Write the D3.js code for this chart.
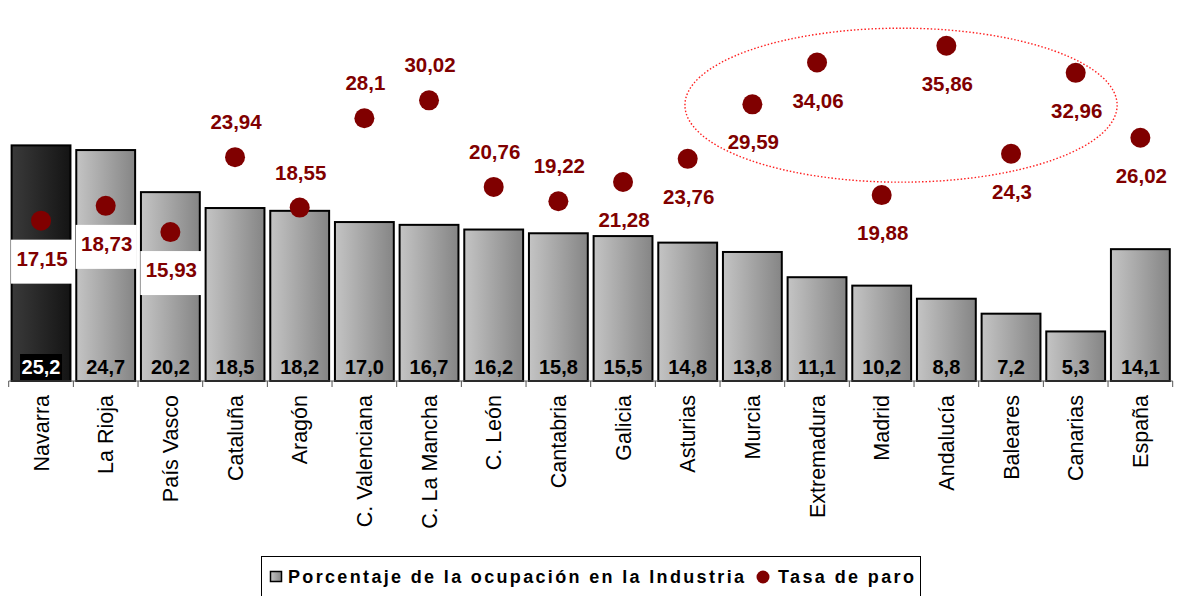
<!DOCTYPE html>
<html>
<head>
<meta charset="utf-8">
<script src="https://cdn.jsdelivr.net/npm/d3@7"></script>
<style>
  body { margin: 0; background: #fff; }
  svg { display: block; font-family: "Liberation Sans", Arial, sans-serif; }
</style>
</head>
<body>
<div id="chart"></div>
<script>
// regions, share of employment in industry, unemployment rate
var regions = ["Navarra", "La Rioja", "País Vasco", "Cataluña", "Aragón", "C. Valenciana",
    "C. La Mancha", "C. León", "Cantabria", "Galicia", "Asturias", "Murcia",
    "Extremadura", "Madrid", "Andalucía", "Baleares", "Canarias", "España"];

var industria = [25.2, 24.7, 20.2, 18.5, 18.2, 17.0, 16.7, 16.2, 15.8, 15.5, 14.8, 13.8,
    11.1, 10.2, 8.8, 7.2, 5.3, 14.1];

var paro = [17.15, 18.73, 15.93, 23.94, 18.55, 28.1, 30.02, 20.76, 19.22, 21.28, 23.76, 29.59,
    34.06, 19.88, 35.86, 24.3, 32.96, 26.02];

// where the unemployment label sits relative to its dot
var paroSide = ["below", "below", "below", "above", "above", "above", "above", "above", "above",
    "below", "below", "below", "below", "below", "below", "below", "below", "below"];

var legendLabels = ["Porcentaje de la ocupación en la Industria", "Tasa de paro"];

var width = 1183, height = 596;
var baseY = 381;

var fmt = function(v) { return String(v).replace(".", ","); };
var fmtBar = function(v) { return v.toFixed(1).replace(".", ","); };

var svg = d3.select("#chart").append("svg")
    .attr("width", width)
    .attr("height", height);

var defs = svg.append("defs");
var g1 = defs.append("linearGradient").attr("id", "grayGrad");
g1.append("stop").attr("offset", "0%").attr("stop-color", "#c4c4c4");
g1.append("stop").attr("offset", "100%").attr("stop-color", "#858585");
var g2 = defs.append("linearGradient").attr("id", "darkGrad");
g2.append("stop").attr("offset", "0%").attr("stop-color", "#3a3a3a");
g2.append("stop").attr("offset", "100%").attr("stop-color", "#141414");

var x = d3.scaleBand()
    .domain(regions)
    .range([8.7, 1172.7])
    .paddingInner(0.09)
    .paddingOuter(0.045);

var y = d3.scaleLinear()
    .domain([0, 40])
    .range([baseY, 7]);

var data = regions.map(function(r, i) {
    return { region: r, ind: industria[i], paro: paro[i], side: paroSide[i], i: i };
});

// bars
svg.append("g").selectAll("rect")
    .data(data)
    .enter().append("rect")
    .attr("x", function(d) { return x(d.region); })
    .attr("y", function(d) { return y(d.ind); })
    .attr("width", x.bandwidth())
    .attr("height", function(d) { return baseY - y(d.ind); })
    .attr("fill", function(d) { return d.i === 0 ? "url(#darkGrad)" : "url(#grayGrad)"; })
    .attr("stroke", "#000")
    .attr("stroke-width", 2);

// axis line and ticks at band boundaries
var step = x.step();
var x0 = 8.7;
svg.append("line")
    .attr("x1", x0).attr("x2", x0 + step * regions.length)
    .attr("y1", baseY).attr("y2", baseY)
    .attr("stroke", "#555").attr("stroke-width", 1);
svg.append("g").selectAll("line")
    .data(d3.range(regions.length + 1))
    .enter().append("line")
    .attr("x1", function(k) { return x0 + k * step; })
    .attr("x2", function(k) { return x0 + k * step; })
    .attr("y1", baseY).attr("y2", baseY + 6)
    .attr("stroke", "#555").attr("stroke-width", 1);

// category labels, rotated
svg.append("g").selectAll("text")
    .data(data)
    .enter().append("text")
    .attr("transform", function(d) {
        return "translate(" + (x(d.region) + x.bandwidth() / 2 + 7.5) + "," + (baseY + 14) + ") rotate(-90)";
    })
    .attr("text-anchor", "end")
    .style("font-size", "21.5px")
    .attr("fill", "#000")
    .text(function(d) { return d.region; });

// bar value labels
var barLab = svg.append("g");
barLab.append("rect")
    .attr("x", x(regions[0]) + x.bandwidth() / 2 - 21)
    .attr("y", 354)
    .attr("width", 42)
    .attr("height", 26)
    .attr("fill", "#000");
barLab.selectAll("text")
    .data(data)
    .enter().append("text")
    .attr("x", function(d) { return x(d.region) + x.bandwidth() / 2; })
    .attr("y", 374)
    .attr("text-anchor", "middle")
    .style("font-size", "20px")
    .style("font-weight", "bold")
    .attr("fill", function(d) { return d.i === 0 ? "#fff" : "#000"; })
    .text(function(d) { return fmtBar(d.ind); });

// unemployment labels
var red = "#800000";
var labelY = function(d) { return d.side === "above" ? y(d.paro) - 35 : y(d.paro) + 38; };

var rl = svg.append("g");
rl.selectAll("rect")
    .data(data.filter(function(d) { return d.side === "below" && labelY(d) + 10 > y(d.ind); }))
    .enter().append("rect")
    .attr("x", function(d) { return x(d.region) + x.bandwidth() / 2 - 30; })
    .attr("y", function(d) { return labelY(d) - 19; })
    .attr("width", 61)
    .attr("height", 44)
    .attr("fill", "#fff");

rl.selectAll("text")
    .data(data)
    .enter().append("text")
    .attr("x", function(d) { return x(d.region) + x.bandwidth() / 2 + 1; })
    .attr("y", function(d) { return labelY(d) + 7; })
    .attr("text-anchor", "middle")
    .style("font-size", "20.5px")
    .style("font-weight", "bold")
    .attr("fill", red)
    .text(function(d) { return fmt(d.paro); });

// dots
svg.append("g").selectAll("circle")
    .data(data)
    .enter().append("circle")
    .attr("cx", function(d) { return x(d.region) + x.bandwidth() / 2; })
    .attr("cy", function(d) { return y(d.paro); })
    .attr("r", 10)
    .attr("fill", red);

// dotted ellipse around the high-unemployment group
var ex1 = x("Murcia") - 38, ex2 = x("Canarias") + x.bandwidth() + 12;
svg.append("ellipse")
    .attr("cx", (ex1 + ex2) / 2)
    .attr("cy", y(29.5))
    .attr("rx", (ex2 - ex1) / 2)
    .attr("ry", 77)
    .attr("fill", "none")
    .attr("stroke", "#ff2020")
    .attr("stroke-width", 1.4)
    .attr("stroke-dasharray", "1.5,2");

// legend
var leg = svg.append("g");
leg.append("rect")
    .attr("x", 261.5).attr("y", 556.5)
    .attr("width", 659).attr("height", 48)
    .attr("fill", "#fff")
    .attr("stroke", "#000").attr("stroke-width", 1);
leg.append("rect")
    .attr("x", 270.5).attr("y", 571.5)
    .attr("width", 11).attr("height", 10)
    .attr("fill", "url(#grayGrad)")
    .attr("stroke", "#000").attr("stroke-width", 1.5);
leg.append("text")
    .attr("x", 288).attr("y", 583)
    .attr("textLength", 456)
    .attr("lengthAdjust", "spacing")
    .style("font-size", "18px")
    .style("font-weight", "bold")
    .text(legendLabels[0]);
leg.append("circle")
    .attr("cx", 763).attr("cy", 577).attr("r", 6.5)
    .attr("fill", red);
leg.append("text")
    .attr("x", 778).attr("y", 583)
    .attr("textLength", 136)
    .attr("lengthAdjust", "spacing")
    .style("font-size", "18px")
    .style("font-weight", "bold")
    .text(legendLabels[1]);
</script>
</body>
</html>
